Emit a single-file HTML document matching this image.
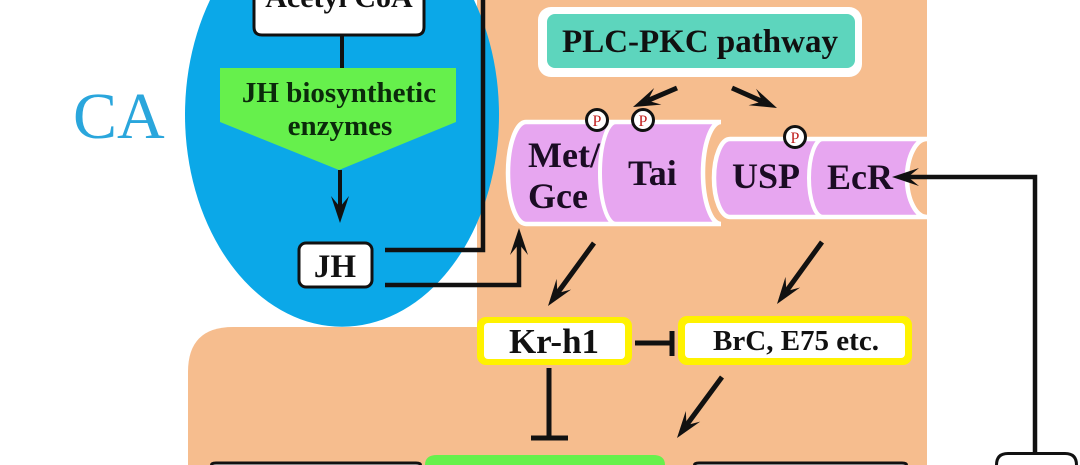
<!DOCTYPE html>
<html>
<head>
<meta charset="utf-8">
<style>
  html,body{margin:0;padding:0;background:#fff;}
  body{width:1080px;height:465px;overflow:hidden;}
  svg{display:block;overflow:hidden;}
  .t{font-family:"Liberation Serif",serif;font-weight:bold;}
</style>
</head>
<body>
<svg width="1080" height="465" viewBox="0 0 1080 465" xmlns="http://www.w3.org/2000/svg">
  <!-- peach regions -->
  <rect x="477" y="0" width="450" height="465" fill="#f6bd8e"/>
  <path d="M188,465 L188,372 Q188,327 233,327 L927,327 L927,465 Z" fill="#f6bd8e"/>

  <!-- blue ellipse (clipped at top) -->
  <path d="M210,0 A157,212 0 1 0 474,0 Z" fill="#0ba8e8"/>

  <!-- CA label -->
  <text x="73" y="138" font-family="Liberation Serif, serif" font-size="66" fill="#2aa6dc">CA</text>

  <!-- Acetyl CoA box -->
  <path d="M254,0 L254,27 Q254,35 262,35 L416,35 Q424,35 424,27 L424,0 Z" fill="#fff"/>
  <path d="M254,0 L254,27 Q254,35 262,35 L416,35 Q424,35 424,27 L424,0" fill="none" stroke="#111" stroke-width="3"/>
  <text class="t" x="339" y="7" font-size="30" text-anchor="middle" fill="#111">Acetyl CoA</text>
  <line x1="342" y1="35" x2="342" y2="69" stroke="#111" stroke-width="4"/>

  <!-- JH biosynthetic enzymes pentagon -->
  <polygon points="220,68 456,68 456,122 339,170 220,122" fill="#66f04c"/>
  <text class="t" x="339" y="102" font-size="29" text-anchor="middle" fill="#0b2a0b">JH biosynthetic</text>
  <text class="t" x="340" y="135" font-size="29" text-anchor="middle" fill="#0b2a0b">enzymes</text>

  <!-- arrow pentagon -> JH -->
  <line x1="340" y1="170" x2="340" y2="208" stroke="#111" stroke-width="4"/>
  <polygon points="340,223 331,196 340,207 349,196" fill="#111"/>

  <!-- JH box -->
  <rect x="299" y="243" width="73" height="44" rx="7" fill="#fff" stroke="#111" stroke-width="3"/>
  <text class="t" x="335" y="277" font-size="33" text-anchor="middle" fill="#111">JH</text>

  <!-- JH lines -->
  <polyline points="385,250 483,250 483,0" fill="none" stroke="#111" stroke-width="4.5"/>
  <polyline points="385,285 519,285 519,244" fill="none" stroke="#111" stroke-width="4.5"/>
  <polygon points="519,228 510,255 519,244 528,255" fill="#111"/>

  <!-- PLC-PKC pathway -->
  <rect x="538" y="7" width="324" height="70" rx="13" fill="#fff"/>
  <rect x="547" y="14" width="308" height="54" rx="8" fill="#5dd5bd"/>
  <text class="t" x="700" y="52" font-size="33" text-anchor="middle" fill="#111">PLC-PKC pathway</text>

  <!-- PLC arrows -->
  <line x1="677" y1="88" x2="647.7" y2="100.6" stroke="#111" stroke-width="5"/>
  <polygon points="633,107 654.2,88 647.7,100.6 661.4,104.6" fill="#111"/>
  <line x1="732" y1="88" x2="762.4" y2="101.5" stroke="#111" stroke-width="5"/>
  <polygon points="777,108 748.6,105.2 762.4,101.5 756,88.8" fill="#111"/>

  <!-- Met/Gce + Tai receptor -->
  <path d="M526,122 L721,122 A18,51 0 0 0 721,224 L526,224 A18,51 0 0 1 526,122 Z" fill="#e7a6f0" stroke="#fff" stroke-width="4.5"/>
  <path d="M616,122 A16,51 0 0 0 616,224" fill="none" stroke="#fff" stroke-width="4"/>
  <text class="t" x="528" y="167" font-size="36" fill="#1b0c24">Met/</text>
  <text class="t" x="528" y="208" font-size="36" fill="#1b0c24">Gce</text>
  <text class="t" x="628" y="185" font-size="36" fill="#1b0c24">Tai</text>

  <!-- USP + EcR receptor -->
  <path d="M730,139 L927,139 A20,39 0 0 0 927,217 L730,217 A16,39 0 0 1 730,139 Z" fill="#e7a6f0" stroke="#fff" stroke-width="4.5"/>
  <path d="M823,139 A14,39 0 0 0 823,217" fill="none" stroke="#fff" stroke-width="4"/>
  <rect x="929" y="130" width="20" height="95" fill="#fff"/>
  <text class="t" x="732" y="188" font-size="36" fill="#1b0c24">USP</text>
  <text class="t" x="827" y="189" font-size="36" fill="#1b0c24">EcR</text>

  <!-- phospho circles -->
  <circle cx="597" cy="120" r="10.5" fill="#fff" stroke="#111" stroke-width="3"/>
  <text x="597" y="126" font-family="Liberation Serif, serif" font-size="16" text-anchor="middle" fill="#c0201f">P</text>
  <circle cx="643" cy="120" r="10.5" fill="#fff" stroke="#111" stroke-width="3"/>
  <text x="643" y="126" font-family="Liberation Serif, serif" font-size="16" text-anchor="middle" fill="#c0201f">P</text>
  <circle cx="795" cy="137" r="10.5" fill="#fff" stroke="#111" stroke-width="3"/>
  <text x="795" y="143" font-family="Liberation Serif, serif" font-size="16" text-anchor="middle" fill="#c0201f">P</text>

  <!-- EcR connector from right -->
  <polyline points="1035,452 1035,177 908,177" fill="none" stroke="#111" stroke-width="4.5"/>
  <polygon points="892,177 919,168 908,177 919,186" fill="#111"/>

  <!-- Met -> Kr-h1 arrow -->
  <line x1="594" y1="243" x2="557.4" y2="293.1" stroke="#111" stroke-width="5"/>
  <polygon points="548,306 571.2,289.5 557.4,293.1 556.6,278.9" fill="#111"/>

  <!-- USP -> BrC arrow -->
  <line x1="822" y1="242" x2="786.4" y2="291.1" stroke="#111" stroke-width="5"/>
  <polygon points="777,304 800.1,287.5 786.4,291.1 785.5,276.9" fill="#111"/>

  <!-- Kr-h1 box -->
  <rect x="477" y="317" width="155" height="48" rx="9" fill="#fff200"/>
  <rect x="484" y="323" width="141" height="36" rx="4" fill="#fff"/>
  <text class="t" x="554" y="353" font-size="35" text-anchor="middle" fill="#111">Kr-h1</text>

  <!-- BrC box -->
  <rect x="678" y="316" width="234" height="49" rx="9" fill="#fff200"/>
  <rect x="685" y="323" width="220" height="35" rx="4" fill="#fff"/>
  <text class="t" x="796" y="350" font-size="29" text-anchor="middle" fill="#111">BrC, E75 etc.</text>

  <!-- Kr-h1 -| BrC -->
  <line x1="635" y1="343" x2="672" y2="343" stroke="#111" stroke-width="5"/>
  <line x1="672" y1="331" x2="672" y2="356" stroke="#111" stroke-width="5"/>

  <!-- Kr-h1 -| down -->
  <line x1="549" y1="368" x2="549" y2="438" stroke="#111" stroke-width="5"/>
  <line x1="531" y1="438" x2="568" y2="438" stroke="#111" stroke-width="5"/>

  <!-- BrC -> down arrow -->
  <line x1="722" y1="377" x2="686.5" y2="425.1" stroke="#111" stroke-width="5"/>
  <polygon points="677,438 700.2,421.6 686.5,425.1 685.8,411" fill="#111"/>

  <!-- bottom boxes (cut off) -->
  <path d="M211.5,465 Q211.5,463 216,463 L416,463 Q420.5,463 420.5,465" fill="#fff" stroke="#111" stroke-width="3"/>
  <path d="M425,465 Q425,455 437,455 L653,455 Q665,455 665,465 Z" fill="#66f04c"/>
  <path d="M694.5,465 Q694.5,463 699,463 L902,463 Q906.5,463 906.5,465" fill="#fff" stroke="#111" stroke-width="3"/>
  <path d="M996.5,465 Q996.5,453.5 1008,453.5 L1065,453.5 Q1076.5,453.5 1076.5,465" fill="#fff" stroke="#111" stroke-width="3"/>
</svg>
</body>
</html>
